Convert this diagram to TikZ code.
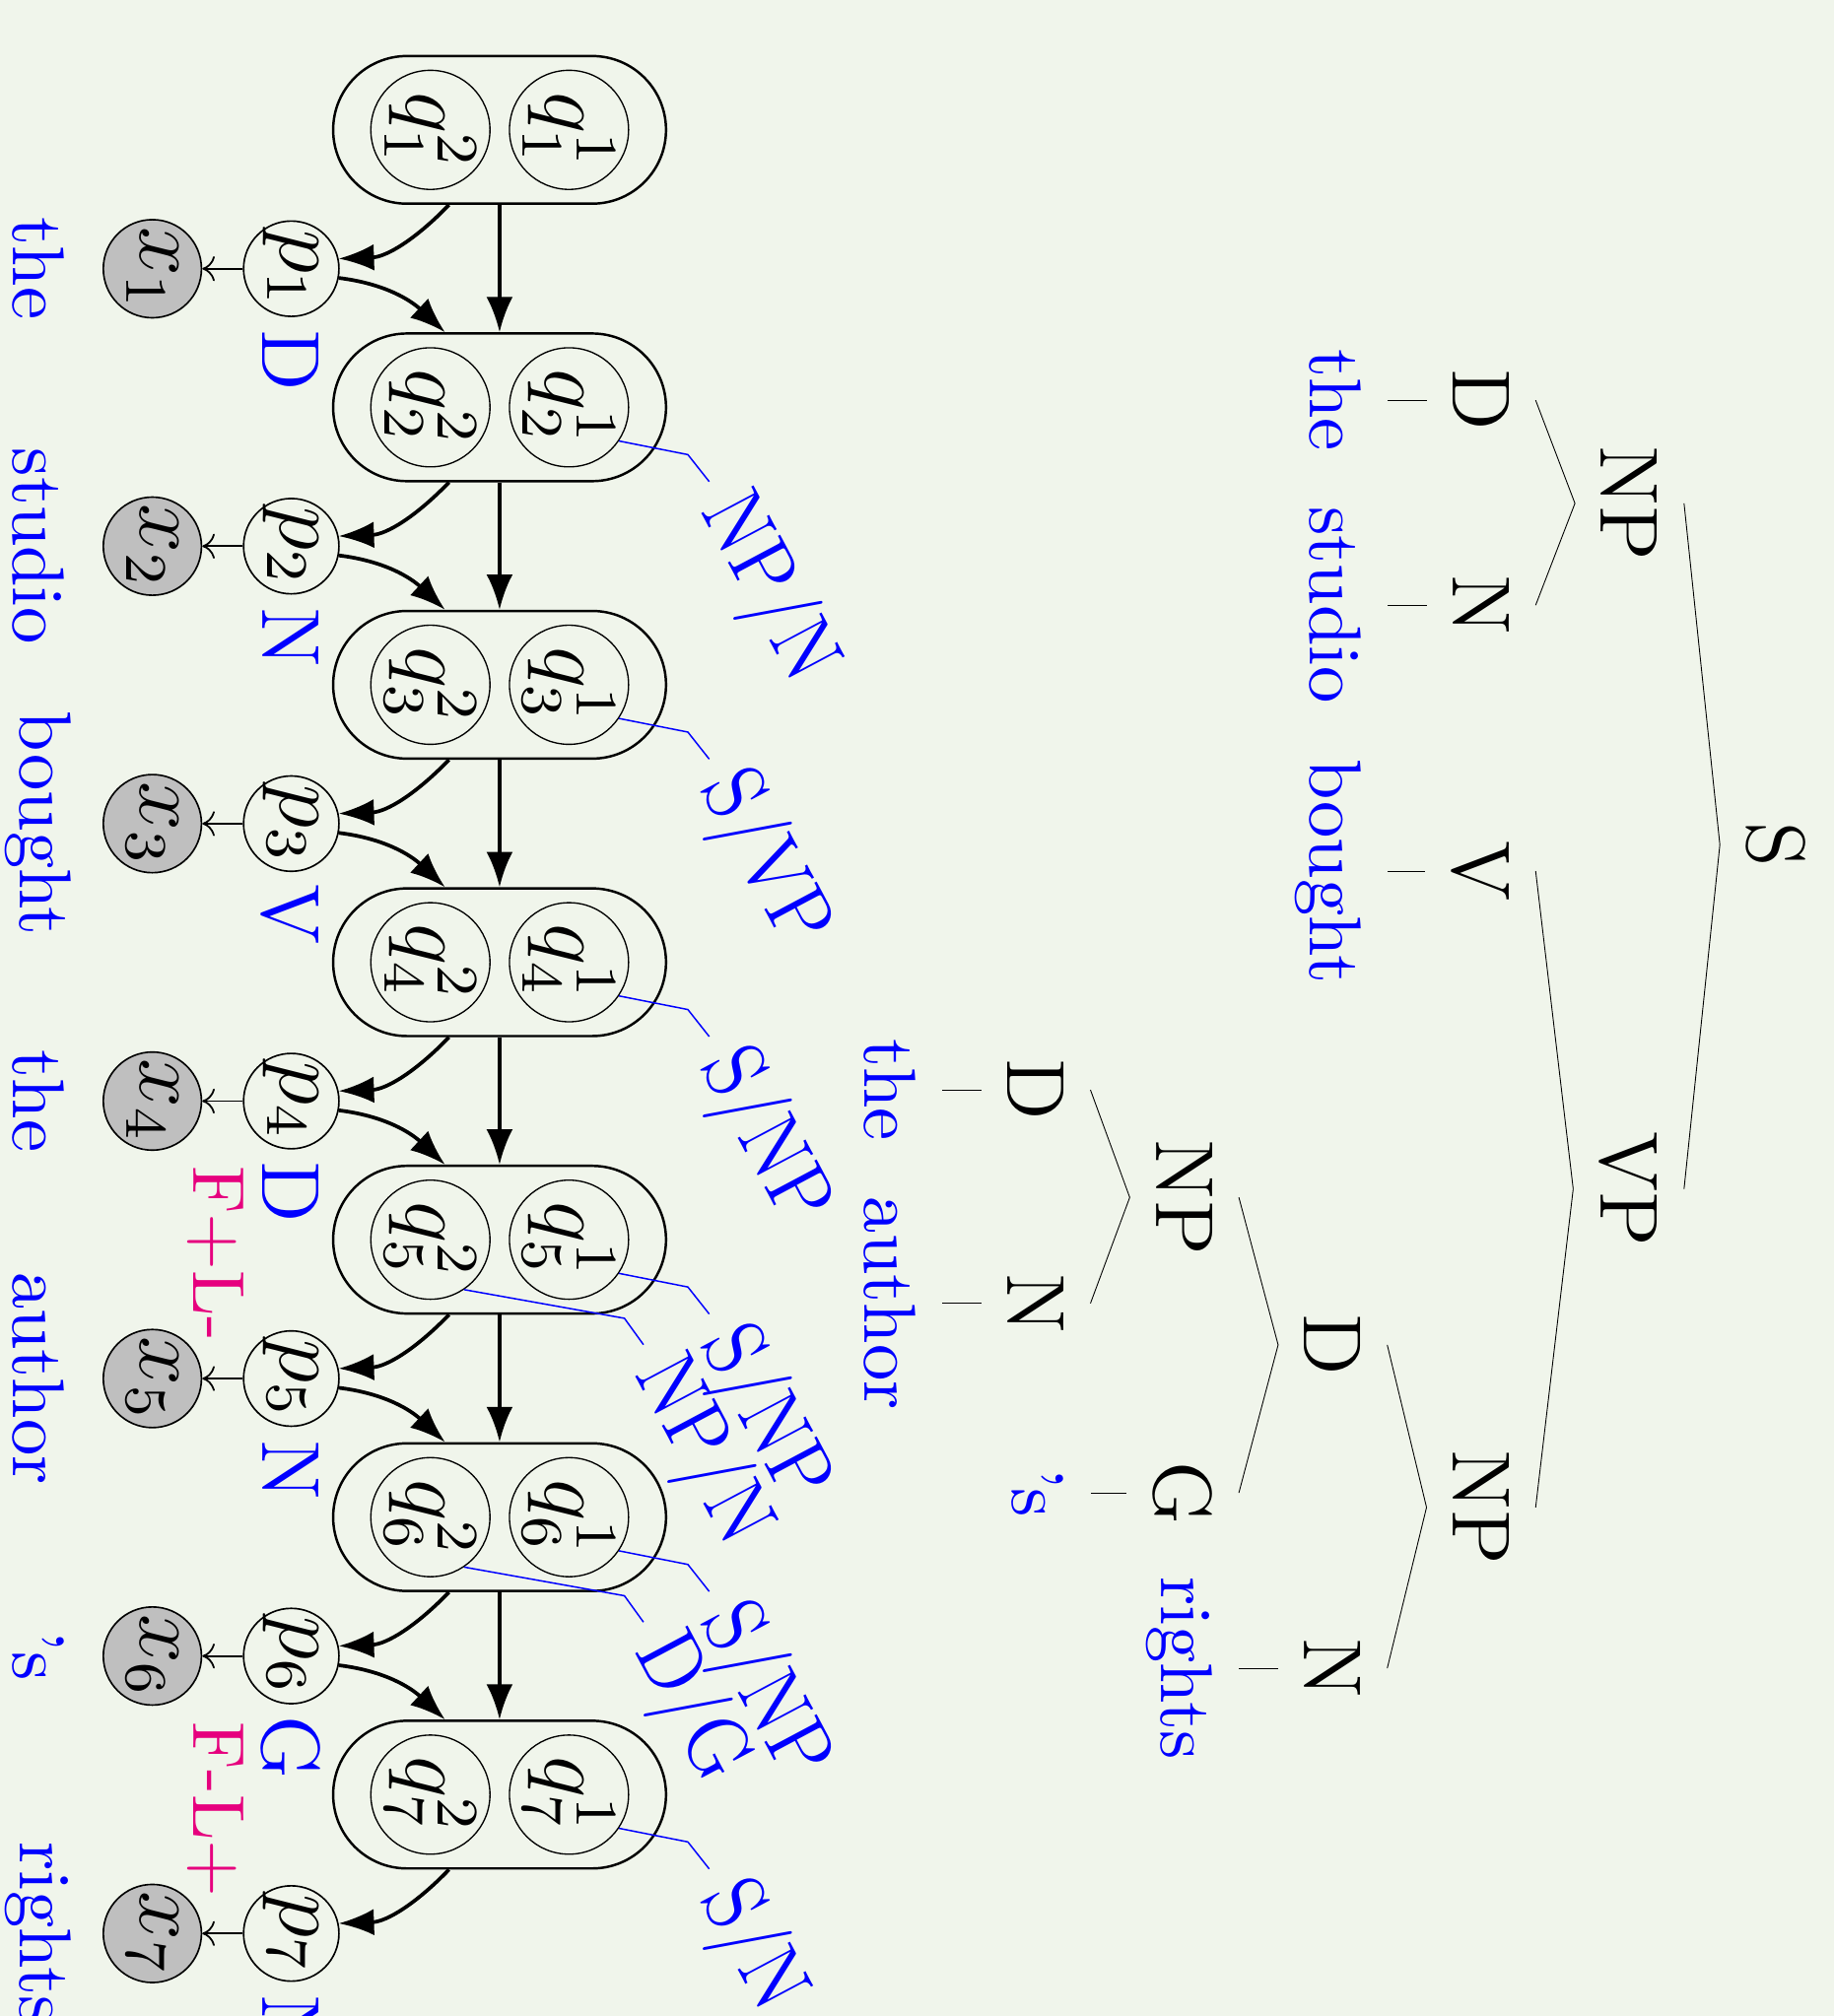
\documentclass[tikz,border=0pt]{standalone}
\usetikzlibrary{arrows.meta,calc}
\definecolor{bg}{RGB}{240,245,235}
\definecolor{catblue}{RGB}{0,0,255}
\definecolor{featpink}{RGB}{230,0,126}
\definecolor{obsgray}{RGB}{191,191,191}
\begin{document}
\begin{tikzpicture}[x=0.175pt,y=0.175pt,
  capsule/.style={draw, line width=0.33pt, rectangle, rounded corners=10.05pt,
    minimum width=20.1pt, minimum height=45.3pt, inner sep=0pt},
  qnode/.style={draw, circle, line width=0.18pt, minimum size=14.5pt, inner sep=0pt,
    font=\fontsize{12}{14}\selectfont},
  pnode/.style={draw, circle, line width=0.22pt, minimum size=11.4pt, inner sep=0pt,
    font=\fontsize{11.5}{13}\selectfont},
  xnode/.style={pnode, fill=obsgray, minimum size=11.6pt},
  bigarrow/.style={line width=0.5pt, -{Latex[length=4.8pt,width=3.6pt]}},
  emitarrow/.style={line width=0.24pt, -{To[length=1.7pt,width=3.4pt]}},
  leader/.style={catblue, line width=0.2pt},
  cat/.style={text=catblue, font=\fontsize{11.8}{14}\selectfont, anchor=west,
    rotate=28, xscale=0.88, inner sep=3.2pt},
  tagl/.style={text=catblue, font=\fontsize{11.2}{13}\selectfont},
  feat/.style={text=featpink, font=\fontsize{10}{12}\selectfont},
  word/.style={text=catblue, font=\fontsize{10}{12}\selectfont, inner sep=3.4pt},
  tl/.style={font=\fontsize{11.2}{13}\selectfont, inner sep=3.4pt, anchor=north},
  tw/.style={word, anchor=north},
  edge/.style={line width=0.12pt}]

\useasboundingbox (0,0) rectangle (1426,-1568);
\fill[bg] (0,0) rectangle (1426,-1568);
\clip (0,0) rectangle (1426,-1568);

\begin{scope}[rotate=-90, transform shape]

% ---------- chain of hidden states, emissions and observations ----------
\foreach \k/\tg/\w in {1/D/the, 2/N/studio, 3/V/bought, 4/D/the, 5/N/author,
                       6/G/{\textquoteright s}, 7/N/rights}{
  \pgfmathsetmacro\cy{101+215.8*(\k-1)}
  \pgfmathsetmacro\py{209+215.8*(\k-1)}
  \pgfmathsetmacro\ty{\py+71}
  \node[capsule] (c\k) at (\cy,388.5) {};
  \node[qnode] (qa\k) at (\cy,442.5) {$q_{\k}^{1}$};
  \node[qnode] (qb\k) at (\cy,334.7) {$q_{\k}^{2}$};
  \node[pnode] (p\k) at (\py,226.5) {$p_{\k}$};
  \node[xnode] (x\k) at (\py,118.5) {$x_{\k}$};
  \node[tagl] (t\k) at (\ty,225.8) {\tg};
  \node[word] (w\k) at (\py,30) {\w};
  \draw[bigarrow] (c\k.-34.5) to[out=-44,in=92] (p\k.102);
  \draw[emitarrow] (p\k) -- (x\k);
}
\foreach \k [evaluate=\k as \n using int(\k+1)] in {1,...,6}{
  \draw[bigarrow] (c\k) -- (c\n);
  \draw[bigarrow] (p\k.79) to[out=83,in=227] (c\n.-144);
}

% ---------- category labels on the state nodes ----------
\foreach \k/\lab in {2/{NP/N}, 3/{S/VP}, 4/{S/NP}, 5/{S/NP}, 6/{S/NP}, 7/{S/N}}{
  \draw[leader] (qa\k.56) -- ++(10.6,53.6) -- ++(21,16.6) node[cat] (la\k) {\lab};
}
\foreach \k/\lab in {5/{NP/N}, 6/{D/G}}{
  \draw[leader] (qb\k.34) -- ++(22.3,124.7) -- ++(20.5,14.8) node[cat] (lb\k) {\lab};
}

% ---------- feature annotations ----------
\node[feat] (f5) at (975,168) {F+L-};
\node[feat] (f7) at (1407.6,168) {F-L+};

% ---------- parse tree ----------
\node[tl] (S)   at (657,1425)    {S};
\node[tl] (NPa) at (391.5,1309.6) {NP};
\node[tl] (VP)  at (924.7,1309.6) {VP};
\node[tl] (Da)  at (311.3,1194.2) {D};
\node[tl] (Na)  at (470.7,1194.2) {N};
\node[tl] (V)   at (677.5,1194.2) {V};
\node[tl] (NPb) at (1172.4,1194.2) {NP};
\node[tw] (wa)  at (311.3,1078.8) {the};
\node[tw] (wb)  at (470.7,1078.8) {studio};
\node[tw] (wc)  at (677.5,1078.8) {bought};
\node[tl] (Db)  at (1046,1078.8) {D};
\node[tl] (Nb)  at (1297.5,1078.8) {N};
\node[tl] (NPc) at (931.3,963.4) {NP};
\node[tl] (G)   at (1161.1,963.4) {G};
\node[tw] (wg)  at (1297.5,963.4) {rights};
\node[tl] (Dc)  at (847.7,848) {D};
\node[tl] (Nc)  at (1013.7,848) {N};
\node[tw] (wf)  at (1161.1,848) {\textquoteright s};
\node[tw] (wd)  at (847.7,732.6) {the};
\node[tw] (we)  at (1013.7,732.6) {author};

\foreach \a/\b in {S/NPa, S/VP, NPa/Da, NPa/Na, Da/wa, Na/wb, VP/V, VP/NPb, V/wc,
                   NPb/Db, NPb/Nb, Nb/wg, Db/NPc, Db/G, G/wf, NPc/Dc, NPc/Nc,
                   Dc/wd, Nc/we}{
  \draw[edge] (\a.south) -- (\b.north);
}
\end{scope}
\end{tikzpicture}
\end{document}
